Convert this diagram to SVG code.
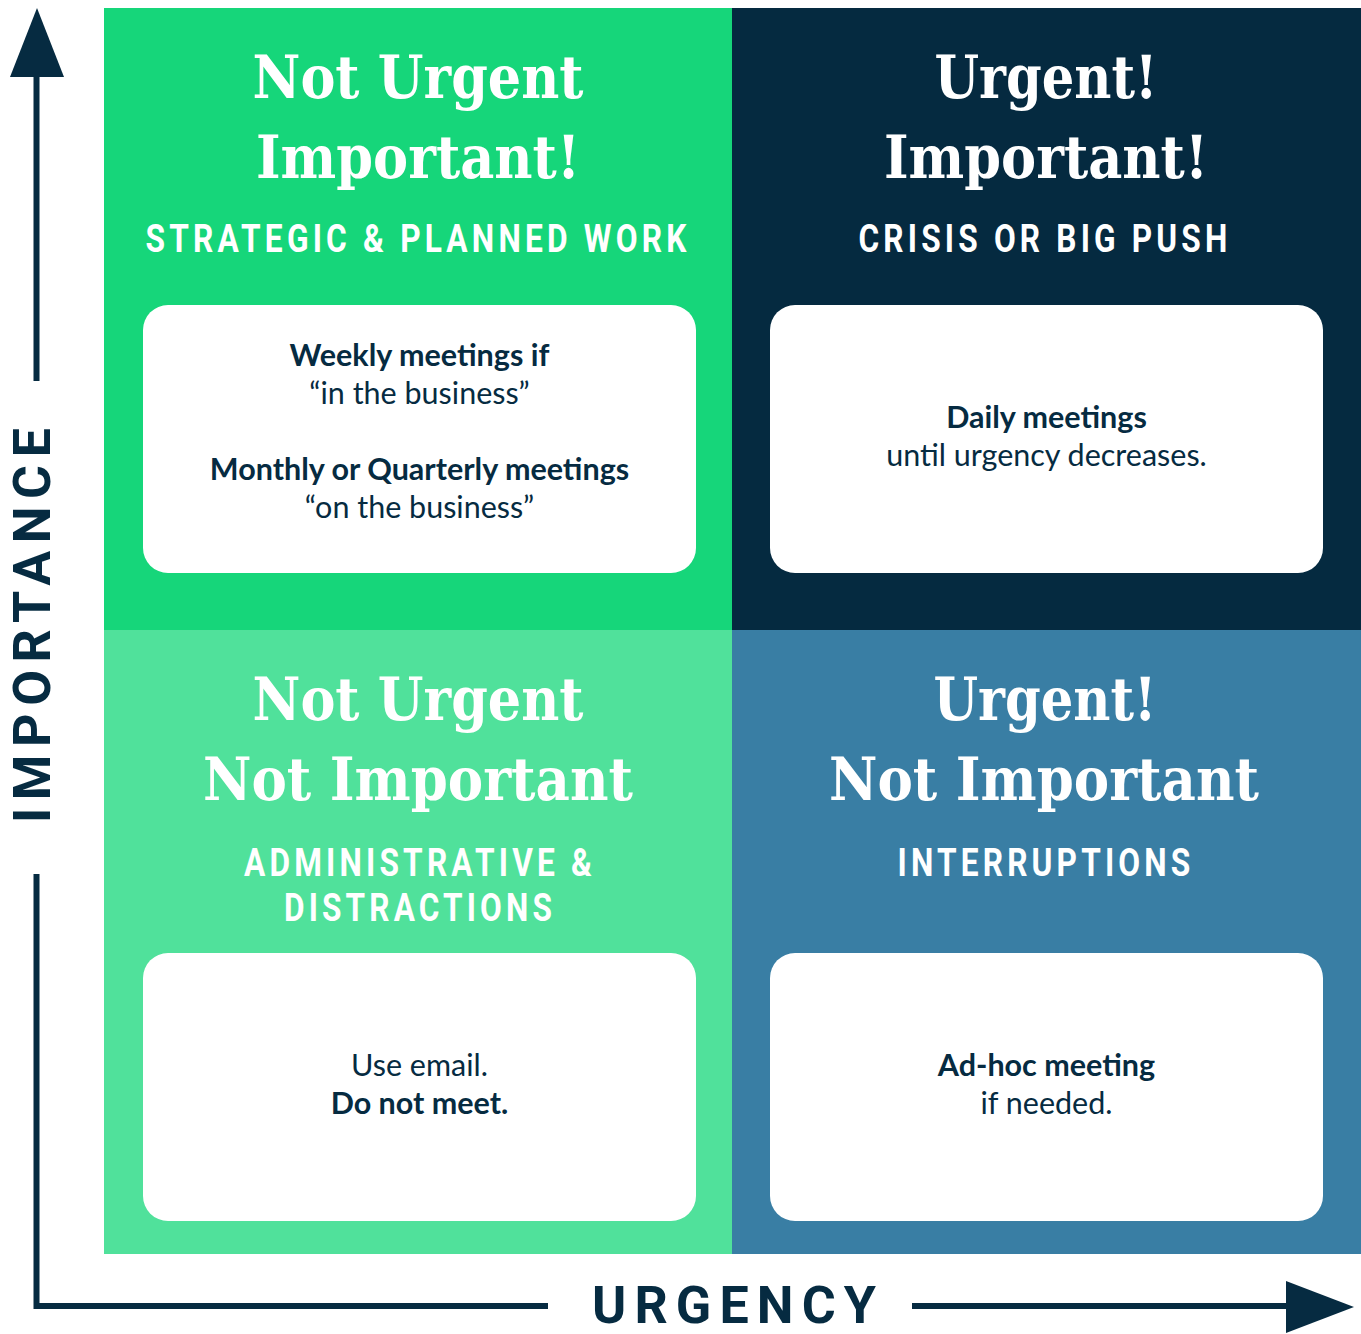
<svg xmlns="http://www.w3.org/2000/svg" width="1361" height="1334" viewBox="0 0 1361 1334">
  <style>
    .title { font-family: "DejaVu Serif", "Liberation Serif", serif; font-weight: bold; font-stretch: condensed; font-size: 59px; fill: #ffffff; text-anchor: middle; }
    .sub { font-family: Roboto, "Liberation Sans", sans-serif; font-weight: bold; font-size: 38px; letter-spacing: 5px; fill: #ffffff; text-anchor: middle; }
    .card { fill: #ffffff; }
    .body { font-family: Lato, "Open Sans", sans-serif; font-size: 30.5px; fill: #062b41; text-anchor: middle; }
    .b { font-weight: bold; }
    .axis { font-family: Roboto, "Liberation Sans", sans-serif; font-weight: bold; font-size: 52px; fill: #062b41; text-anchor: middle; }
    .line { stroke: #062b41; stroke-width: 6; fill: none; }
    .head { fill: #062b41; }
  </style>
  <rect width="1361" height="1334" fill="#ffffff"/>

  <!-- quadrant: not urgent / important -->
  <g id="q-not-urgent-important">
    <rect x="104" y="8" width="628" height="622" fill="#16d67a"/>
    <text class="title" x="418" y="98" textLength="331" lengthAdjust="spacingAndGlyphs">Not Urgent</text>
    <text class="title" x="418" y="178" textLength="324" lengthAdjust="spacingAndGlyphs">Important!</text>
    <text class="sub" x="418" y="252" textLength="545" lengthAdjust="spacingAndGlyphs">STRATEGIC &amp; PLANNED WORK</text>
    <rect class="card" x="143" y="305" width="553" height="268" rx="25"/>
    <text class="body b" x="419.5" y="366">Weekly meetings if</text>
    <text class="body" x="419.5" y="404">“in the business”</text>
    <text class="body b" x="419.5" y="480">Monthly or Quarterly meetings</text>
    <text class="body" x="419.5" y="518">“on the business”</text>
  </g>

  <!-- quadrant: urgent / important -->
  <g id="q-urgent-important">
    <rect x="732" y="8" width="629" height="622" fill="#052a40"/>
    <text class="title" x="1046" y="98" textLength="223" lengthAdjust="spacingAndGlyphs">Urgent!</text>
    <text class="title" x="1046" y="178" textLength="324" lengthAdjust="spacingAndGlyphs">Important!</text>
    <text class="sub" x="1045" y="252" textLength="373" lengthAdjust="spacingAndGlyphs">CRISIS OR BIG PUSH</text>
    <rect class="card" x="770" y="305" width="553" height="268" rx="25"/>
    <text class="body b" x="1046.5" y="428">Daily meetings</text>
    <text class="body" x="1046.5" y="466">until urgency decreases.</text>
  </g>

  <!-- quadrant: not urgent / not important -->
  <g id="q-not-urgent-not-important">
    <rect x="104" y="630" width="628" height="624" fill="#50e19b"/>
    <text class="title" x="418" y="720" textLength="331" lengthAdjust="spacingAndGlyphs">Not Urgent</text>
    <text class="title" x="418" y="800" textLength="430" lengthAdjust="spacingAndGlyphs">Not Important</text>
    <text class="sub" x="420" y="876" textLength="352" lengthAdjust="spacingAndGlyphs">ADMINISTRATIVE &amp;</text>
    <text class="sub" x="420" y="921" textLength="272" lengthAdjust="spacingAndGlyphs">DISTRACTIONS</text>
    <rect class="card" x="143" y="953" width="553" height="268" rx="25"/>
    <text class="body" x="419.5" y="1076">Use email.</text>
    <text class="body b" x="419.5" y="1114">Do not meet.</text>
  </g>

  <!-- quadrant: urgent / not important -->
  <g id="q-urgent-not-important">
    <rect x="732" y="630" width="629" height="624" fill="#397ea4"/>
    <text class="title" x="1045" y="720" textLength="223" lengthAdjust="spacingAndGlyphs">Urgent!</text>
    <text class="title" x="1044" y="800" textLength="430" lengthAdjust="spacingAndGlyphs">Not Important</text>
    <text class="sub" x="1046" y="876" textLength="297" lengthAdjust="spacingAndGlyphs">INTERRUPTIONS</text>
    <rect class="card" x="770" y="953" width="553" height="268" rx="25"/>
    <text class="body b" x="1046.5" y="1076">Ad-hoc meeting</text>
    <text class="body" x="1046.5" y="1114">if needed.</text>
  </g>

  <!-- axes -->
  <g id="axes">
    <path class="line" d="M36.5 77 V381"/>
    <path class="line" d="M36.5 874 V1306 H548"/>
    <path class="line" d="M912 1306 H1290"/>
    <polygon class="head" points="37,8 64,77 10,77"/>
    <polygon class="head" points="1354,1307 1286,1281 1286,1333"/>
  </g>
  <g id="axis-labels">
    <text class="axis" transform="translate(50 625.5) rotate(-90)" x="0" y="0" textLength="395" lengthAdjust="spacing">IMPORTANCE</text>
    <text class="axis" x="734" y="1323" textLength="284" lengthAdjust="spacing">URGENCY</text>
  </g>
</svg>
